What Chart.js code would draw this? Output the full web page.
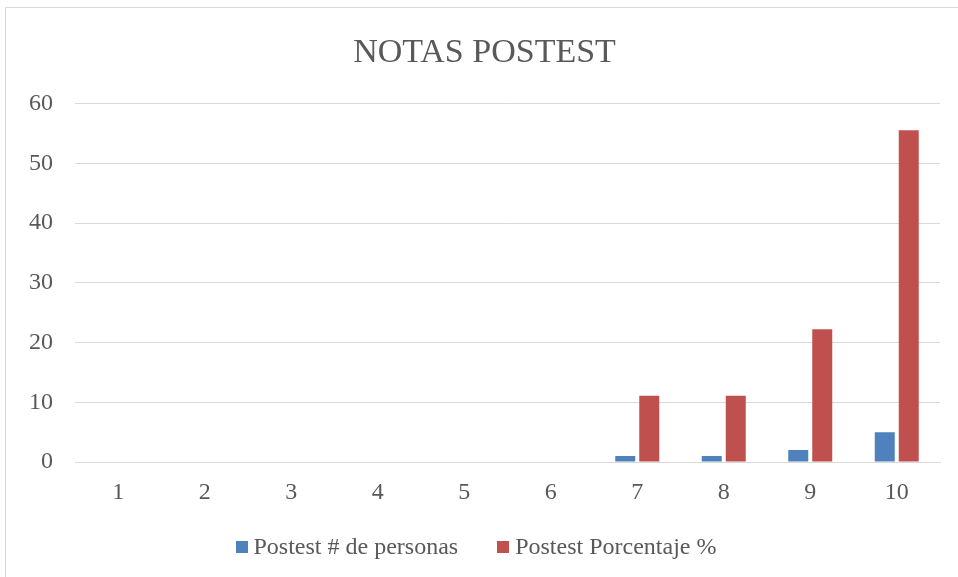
<!DOCTYPE html>
<html>
<head>
<meta charset="utf-8">
<script src="https://cdn.jsdelivr.net/npm/chart.js@4"></script>
<style>
  html, body { margin: 0; padding: 0; background: #fff; overflow: hidden; }
  #wrap { position: absolute; left: 0; top: 0; width: 958px; height: 577px; }
  #frame { position: absolute; left: 5px; top: 7px; width: 970px; height: 600px;
           border-left: 1px solid #D9D9D9; border-top: 1px solid #D9D9D9; pointer-events: none; }
  #legend { position: absolute; left: 0; top: 531px; width: 952px; height: 30px;
            display: flex; justify-content: center; align-items: center;
            font-family: 'Liberation Serif', 'DejaVu Serif', serif; font-size: 24px; color: #595959; }
  .item { display: flex; align-items: center; white-space: nowrap; }
  .item + .item { margin-left: 39px; }
  .box { width: 12px; height: 12px; margin-right: 6px; margin-top: 1px; }
</style>
</head>
<body>
<div id="wrap"><canvas id="c" width="958" height="577"></canvas></div>
<div id="frame"></div>
<div id="legend"></div>
<script>
const categories = ['1','2','3','4','5','6','7','8','9','10'];
const personas = [0, 0, 0, 0, 0, 0, 1, 1, 2, 5];
const porcentaje = [0, 0, 0, 0, 0, 0, 11.11, 11.11, 22.22, 55.56];
const seriesNames = ['Postest # de personas', 'Postest Porcentaje %'];
const seriesColors = ['#4F81BD', '#C0504D'];
const chartTitle = 'NOTAS POSTEST';

const FONT = "'Liberation Serif', 'DejaVu Serif', serif";
const TXT = '#595959';

const chart = new Chart(document.getElementById('c'), {
  type: 'bar',
  data: {
    labels: categories,
    datasets: [
      { label: seriesNames[0], data: personas, backgroundColor: seriesColors[0],
        categoryPercentage: 0.555, barPercentage: 0.833 },
      { label: seriesNames[1], data: porcentaje, backgroundColor: seriesColors[1],
        categoryPercentage: 0.555, barPercentage: 0.833 }
    ]
  },
  options: {
    responsive: false,
    animation: false,
    events: [],
    layout: { padding: { left: 29, right: 18, top: 0, bottom: 69 } },
    plugins: {
      title: {
        display: true, text: chartTitle, color: TXT,
        font: { family: FONT, size: 34, weight: 'normal' },
        padding: { top: 33, bottom: 30 }
      },
      legend: { display: false },
      tooltip: { enabled: false }
    },
    scales: {
      x: {
        grid: { display: false, drawTicks: false },
        border: { display: true, color: '#D9D9D9' },
        ticks: { color: TXT, font: { family: FONT, size: 24 }, padding: 16 },
        afterFit: (s) => { s.height = 46; }
      },
      y: {
        min: 0, max: 60,
        grid: { color: '#D9D9D9', lineWidth: 1, drawTicks: false },
        border: { display: false },
        ticks: { stepSize: 10, color: TXT, font: { family: FONT, size: 24 }, padding: 22 },
        afterFit: (s) => { s.width = 46; }
      }
    }
  }
});

// HTML legend built from the chart's datasets
const lg = document.getElementById('legend');
chart.data.datasets.forEach((ds) => {
  const it = document.createElement('div'); it.className = 'item';
  const b = document.createElement('span'); b.className = 'box'; b.style.background = ds.backgroundColor;
  const t = document.createElement('span'); t.textContent = ds.label;
  it.appendChild(b); it.appendChild(t); lg.appendChild(it);
});
</script>
</body>
</html>
